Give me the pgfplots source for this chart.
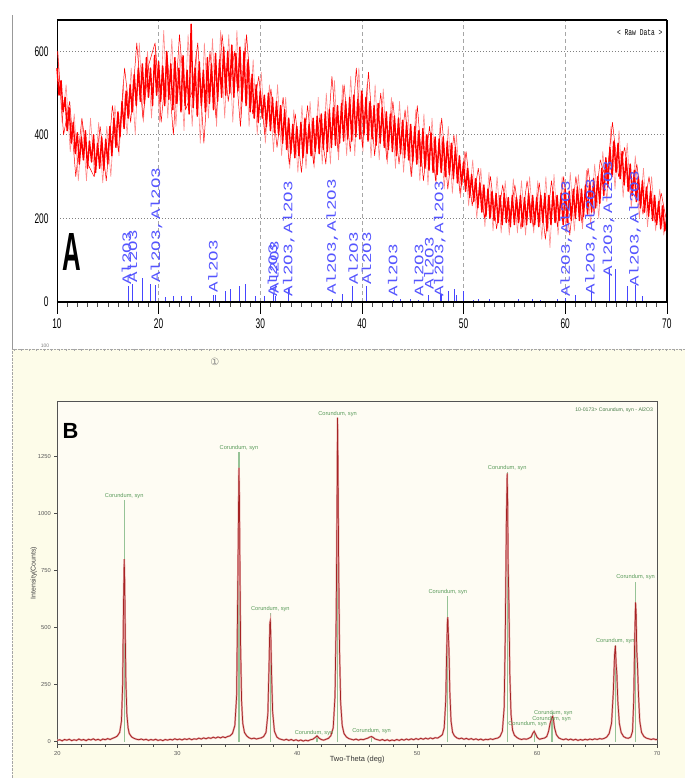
\documentclass[border=0pt]{standalone}
\usepackage{fontspec}
\setmainfont{Liberation Sans}
\newfontfamily\rawmono{Liberation Mono}
\newfontfamily\dejavu{DejaVu Sans}
\usepackage{graphicx}
\usepackage{pgfplots}
\pgfplotsset{compat=1.18}

\definecolor{creamout}{RGB}{253,252,233}
\definecolor{creamin}{RGB}{254,252,243}
\definecolor{stickblue}{RGB}{70,70,255}
\definecolor{labblue}{RGB}{85,85,255}
\definecolor{rawred}{RGB}{255,0,0}
\definecolor{rawpink}{RGB}{255,140,140}
\definecolor{pkred}{RGB}{165,35,35}
\definecolor{pkpink}{RGB}{228,160,160}
\definecolor{pkgreen}{RGB}{150,195,150}
\definecolor{txtgreen}{RGB}{90,155,90}

% reference stick label, panel A
\newcommand{\stk}[3]{\node[rotate=90,anchor=west,inner sep=0pt,text=labblue] at (axis cs:#1,#2) {\scalebox{1.35}[1]{\rawmono\fontsize{13}{13}\selectfont #3}};}
% phase label, panel B
\newcommand{\cor}[3]{\node[anchor=south,inner sep=1pt,text=txtgreen,font=\fontsize{5.7}{6}\selectfont] at (axis cs:#1,#2) {#3};}

\begin{document}
\begin{tikzpicture}
\fill[white] (0,0) rectangle (685bp,778bp);
\fill[creamout] (12bp,0) rectangle (685bp,429bp);
\draw[gray!80] (12bp,429bp) -- (12bp,763bp);
\draw[gray!70, densely dotted] (12bp,429bp) -- (685bp,429bp);
\draw[gray!70, densely dotted] (12bp,0) -- (12bp,429bp);
\foreach \i in {0,...,89} {
  \draw[gray!70] ({(14+7.5*\i)*1bp},429bp) -- ++(0,-2bp);
}
\node[gray, font=\fontsize{5}{5}\selectfont] at (45bp,432bp) {100};
\node[gray, font=\dejavu\fontsize{10}{10}\selectfont] at (215bp,416bp) {①};

% ---------------- panel A: raw pattern ----------------
\begin{axis}[
  at={(57bp,476bp)}, anchor=south west,
  scale only axis, width=610bp, height=282bp,
  xmin=10, xmax=70, ymin=0, ymax=675,
  clip=false,
  /pgf/number format/assume math mode=true,
  xtick={10,20,...,70}, ytick={0,200,400,600},
  minor x tick num=9,
  minor ytick={0,50,...,650},
  tick align=outside, xtick pos=left, ytick pos=left,
  major tick length=12bp, minor tick length=5bp,
  tick style={black, line width=0.6bp},
  ytick style={draw=none},
  minor tick style={black!70, line width=0.5bp},
  xmajorgrids, ymajorgrids,
  x grid style={gray!70, dash pattern=on 4bp off 3bp, line width=0.6bp},
  y grid style={gray, dash pattern=on 1.5bp off 1.5bp, line width=0.7bp},
  axis line style={black, line width=0.8bp},
  tick label style={font=\fontsize{14}{14}\selectfont},
  xticklabel={\scalebox{0.6}[1]{\pgfmathprintnumber{\tick}}},
  yticklabel={\scalebox{0.6}[1]{\pgfmathprintnumber{\tick}}},
  xticklabel style={yshift=-1bp},
  yticklabel style={xshift=7bp},
]
\addplot[draw=rawpink, mark=none, line width=0.6bp, line join=round] coordinates {
(10.1,600)(10.5,430)(10.9,520)(11.3,360)(11.7,450)(12.1,290)(12.5,430)(12.9,290)(13.3,440)(13.7,300)
(14.1,430)(14.5,285)(14.9,420)(15.3,300)(15.7,470)(16.1,350)(16.5,520)(16.9,400)(17.3,560)(17.7,400)
(18.1,620)(18.5,430)(18.9,600)(19.3,440)(19.7,610)(20.1,430)(20.5,650)(20.9,440)(21.3,630)(21.7,420)
(22.1,600)(22.5,410)(22.9,640)(23.3,420)(23.7,600)(24.1,380)(24.5,620)(24.9,440)(25.3,630)(25.7,420)
(26.1,650)(26.5,440)(26.9,640)(27.3,430)(27.7,650)(28.1,440)(28.5,630)(28.9,420)(29.3,580)(29.7,400)
(30.1,550)(30.5,380)(30.9,520)(31.3,360)(31.7,520)(32.1,350)(32.5,490)(32.9,320)(33.3,460)(33.7,310)
(34.1,470)(34.5,320)(34.9,480)(35.3,320)(35.7,490)(36.1,330)(36.5,500)(36.9,330)(37.3,530)(37.7,340)
(38.1,520)(38.5,350)(38.9,540)(39.3,350)(39.7,560)(40.1,360)(40.5,520)(40.9,345)(41.3,520)(41.7,340)
(42.1,510)(42.5,330)(42.9,490)(43.3,320)(43.7,480)(44.1,310)(44.5,470)(44.9,300)(45.3,460)(45.7,290)
(46.1,450)(46.5,280)(46.9,440)(47.3,280)(47.7,430)(48.1,270)(48.5,420)(48.9,260)(49.3,400)(49.7,250)
(50.1,360)(50.5,230)(50.9,340)(51.3,200)(51.7,320)(52.1,180)(52.5,310)(52.9,170)(53.3,300)(53.7,165)
(54.1,290)(54.5,160)(54.9,295)(55.3,165)(55.7,290)(56.1,160)(56.5,300)(56.9,165)(57.3,290)(57.7,150)
(58.1,300)(58.5,130)(58.9,305)(59.3,160)(59.7,300)(60.1,165)(60.5,310)(60.9,170)(61.3,305)(61.7,175)
(62.1,315)(62.5,185)(62.9,330)(63.3,200)(63.7,360)(64.1,240)(64.5,420)(64.9,270)(65.3,410)(65.7,250)
(66.1,380)(66.5,225)(66.9,350)(67.3,200)(67.7,320)(68.1,180)(68.5,300)(68.9,170)(69.3,270)(69.7,160)
(70.0,210)
};
\addplot[draw=rawred, mark=none, line width=0.5bp, line join=round] coordinates {
(10.05,600)(10.65,400)(11.25,480)(11.85,300)(12.45,440)(13.05,330)(13.65,300)(14.25,420)(14.85,290)
(15.45,470)(16.05,360)(16.65,560)(17.25,430)(17.85,620)(18.45,440)(19.05,570)(19.65,620)(20.25,430)
(20.85,590)(21.45,400)(22.05,640)(22.65,460)(23.25,500)(23.85,620)(24.45,380)(25.05,600)(25.65,440)
(26.25,640)(26.85,480)(27.45,600)(28.05,420)(28.65,640)(29.25,450)(29.85,540)(30.45,400)(31.05,510)
(31.65,370)(32.25,490)(32.85,330)(33.45,450)(34.05,310)(34.65,470)(35.25,330)(35.85,440)(36.45,330)
(37.05,540)(37.65,360)(38.25,520)(38.85,360)(39.45,560)(40.05,370)(40.65,550)(41.25,350)(41.85,500)
(42.45,340)(43.05,480)(43.65,330)(44.25,460)(44.85,300)(45.45,470)(46.05,290)(46.65,420)(47.25,290)
(47.85,440)(48.45,270)(49.05,400)(49.65,260)(50.25,360)(50.85,230)(51.45,320)(52.05,200)(52.65,300)
(53.25,175)(53.85,280)(54.45,190)(55.05,280)(55.65,175)(56.25,290)(56.85,180)(57.45,285)(58.05,150)
(58.65,290)(59.25,180)(59.85,300)(60.45,160)(61.05,300)(61.65,190)(62.25,320)(62.85,210)(63.45,340)
(64.05,290)(64.65,430)(65.25,300)(65.85,370)(66.45,250)(67.05,330)(67.65,210)(68.25,300)(68.85,190)
(69.45,260)(70.0,190)
};
\addplot[draw=rawred, mark=none, line width=1.4bp, line join=round] coordinates {
(10.0,560)(10.2,495)(10.4,530)(10.6,455)(10.8,490)(11.0,410)(11.2,465)(11.4,380)(11.6,430)(11.8,355)
(12.0,405)(12.2,330)(12.4,395)(12.6,340)(12.8,410)(13.0,320)(13.2,385)(13.4,335)(13.6,400)(13.8,310)
(14.0,380)(14.2,320)(14.4,395)(14.6,315)(14.8,390)(15.0,330)(15.2,420)(15.4,350)(15.6,440)(15.8,370)
(16.0,455)(16.2,395)(16.4,480)(16.6,415)(16.8,505)(17.0,440)(17.2,520)(17.4,455)(17.6,545)(17.8,470)
(18.0,560)(18.2,480)(18.4,570)(18.6,475)(18.8,585)(19.0,490)(19.2,560)(19.4,470)(19.6,590)(19.8,495)
(20.0,575)(20.2,480)(20.4,565)(20.6,470)(20.8,600)(21.0,485)(21.2,570)(21.4,460)(21.6,585)(21.8,475)
(22.0,560)(22.2,455)(22.4,590)(22.6,470)(22.8,555)(23.0,450)(23.2,665)(23.4,465)(23.6,560)(23.8,445)
(24.0,575)(24.2,470)(24.4,555)(24.6,455)(24.8,585)(25.0,475)(25.2,570)(25.4,460)(25.6,595)(25.8,480)
(26.0,580)(26.2,490)(26.4,610)(26.6,495)(26.8,600)(27.0,500)(27.2,615)(27.4,490)(27.6,595)(27.8,505)
(28.0,610)(28.2,480)(28.4,600)(28.6,470)(28.8,580)(29.0,455)(29.2,545)(29.4,440)(29.6,520)(29.8,430)
(30.0,505)(30.2,440)(30.4,495)(30.6,420)(30.8,500)(31.0,410)(31.2,490)(31.4,405)(31.6,480)(31.8,400)
(32.0,470)(32.2,380)(32.4,460)(32.6,365)(32.8,440)(33.0,355)(33.2,425)(33.4,345)(33.6,420)(33.8,350)
(34.0,430)(34.2,345)(34.4,440)(34.6,355)(34.8,425)(35.0,350)(35.2,440)(35.4,360)(35.6,445)(35.8,355)
(36.0,450)(36.2,365)(36.4,455)(36.6,360)(36.8,460)(37.0,370)(37.2,465)(37.4,375)(37.6,470)(37.8,380)
(38.0,475)(38.2,385)(38.4,480)(38.6,390)(38.8,490)(39.0,385)(39.2,495)(39.4,395)(39.6,485)(39.8,390)
(40.0,505)(40.2,400)(40.4,490)(40.6,385)(40.8,480)(41.0,390)(41.2,470)(41.4,375)(41.6,475)(41.8,380)
(42.0,465)(42.2,370)(42.4,455)(42.6,365)(42.8,450)(43.0,360)(43.2,445)(43.4,350)(43.6,440)(43.8,355)
(44.0,435)(44.2,345)(44.4,430)(44.6,340)(44.8,425)(45.0,335)(45.2,420)(45.4,330)(45.6,410)(45.8,325)
(46.0,415)(46.2,320)(46.4,400)(46.6,315)(46.8,405)(47.0,310)(47.2,395)(47.4,305)(47.6,390)(47.8,310)
(48.0,395)(48.2,300)(48.4,385)(48.6,305)(48.8,380)(49.0,295)(49.2,370)(49.4,285)(49.6,350)(49.8,280)
(50.0,335)(50.2,265)(50.4,320)(50.6,250)(50.8,305)(51.0,240)(51.2,295)(51.4,225)(51.6,285)(51.8,215)
(52.0,280)(52.2,205)(52.4,270)(52.6,200)(52.8,265)(53.0,195)(53.2,260)(53.4,190)(53.6,255)(53.8,185)
(54.0,260)(54.2,190)(54.4,250)(54.6,180)(54.8,255)(55.0,185)(55.2,250)(55.4,190)(55.6,255)(55.8,180)
(56.0,250)(56.2,185)(56.4,260)(56.6,190)(56.8,255)(57.0,185)(57.2,250)(57.4,180)(57.6,255)(57.8,190)
(58.0,260)(58.2,170)(58.4,255)(58.6,185)(58.8,265)(59.0,190)(59.2,255)(59.4,195)(59.6,260)(59.8,185)
(60.0,270)(60.2,190)(60.4,265)(60.6,195)(60.8,270)(61.0,200)(61.2,275)(61.4,195)(61.6,270)(61.8,205)
(62.0,280)(62.2,210)(62.4,285)(62.6,215)(62.8,295)(63.0,225)(63.2,300)(63.4,235)(63.6,320)(63.8,255)
(64.0,345)(64.2,275)(64.4,370)(64.6,300)(64.8,385)(65.0,310)(65.2,380)(65.4,295)(65.6,360)(65.8,280)
(66.0,345)(66.2,265)(66.4,330)(66.6,255)(66.8,315)(67.0,240)(67.2,300)(67.4,225)(67.6,290)(67.8,215)
(68.0,275)(68.2,205)(68.4,265)(68.6,195)(68.8,255)(69.0,185)(69.2,240)(69.4,175)(69.6,230)(69.8,170)
(70.0,200)
};
\addplot[ycomb, draw=stickblue, line width=0.8bp, mark=none] coordinates {
(17.0,37)(17.4,42)(18.4,58)(19.2,42)(19.7,40)(20.7,12)(21.5,15)(22.2,15)(23.2,15)
(25.4,17)(25.6,17)(26.6,27)(27.1,30)(27.9,37)(28.5,42)(29.5,15)(30.4,15)(31.3,20)(31.5,15)
(32.8,30)(37.1,8)(38.1,20)(39.1,38)(40.4,38)(43.1,5)(43.8,8)(44.8,8)(45.6,5)(46.55,17)
(47.7,20)(47.85,20)(48.5,27)(49.1,30)(49.3,17)(50.0,25)(51.0,5)(51.5,8)(52.5,8)(55.4,8)
(56.8,8)(57.6,5)(59.2,8)(60.0,10)(61.0,17)(62.6,25)(64.3,80)(64.9,78)(66.15,37)(66.9,40)(67.6,15)
};
\stk{16.85}{41}{Al2O3}
\stk{17.44}{45}{Al2O3}
\stk{19.8}{45}{Al2O3,Al2O3}
\stk{25.35}{22}{Al2O3}
\stk{31.2}{12}{Al2O3}
\stk{31.35}{20}{Al2O3}
\stk{32.8}{12}{Al2O3,Al2O3}
\stk{37.1}{17}{Al2O3,Al2O3}
\stk{39.14}{41}{Al2O3}
\stk{40.45}{41}{Al2O3}
\stk{43.04}{12}{Al2O3}
\stk{45.6}{12}{Al2O3}
\stk{46.6}{29}{Al2O3}
\stk{47.66}{12}{Al2O3,Al2O3}
\stk{60.1}{12}{Al2O3,Al2O3}
\stk{62.55}{17}{Al2O3,Al2O3}
\stk{64.28}{60}{Al2O3,Al2O3}
\stk{66.87}{36}{Al2O3,Al2O3}
\draw[black, line width=2.6bp] (rel axis cs:0,0) -- (rel axis cs:1,0);
\draw[black, line width=2bp] (rel axis cs:0,1) -- (rel axis cs:1,1);
\draw[black, line width=1.4bp] (rel axis cs:1,0) -- (rel axis cs:1,1);
\node[anchor=east, inner sep=0pt] at (rel axis cs:0.993,0.955)
  {\scalebox{0.7}[1]{\rawmono\fontsize{9}{9}\selectfont < Raw Data >}};
\node at (axis cs:11.5,120)
  {\scalebox{0.48}[1]{\fontsize{54}{54}\selectfont\bfseries A}};
\end{axis}

% ---------------- panel B: corundum pattern ----------------
\begin{axis}[
  at={(57.3bp,33.3bp)}, anchor=south west,
  scale only axis, width=600bp, height=343bp,
  xmin=20, xmax=70, ymin=-13, ymax=1490,
  clip=false,
  axis background/.style={fill=creamin},
  axis line style={gray!65!black, line width=0.8bp},
  /pgf/number format/assume math mode=true,
  /pgf/number format/1000 sep={},
  xtick={20,30,...,70}, ytick={0,250,500,750,1000,1250},
  minor x tick num=4,
  xtick pos=left, ytick pos=left, tick align=outside,
  major tick length=3bp, minor tick length=2bp,
  tick style={gray!60!black, line width=0.5bp},
  tick label style={font=\fontsize{5.8}{6}\selectfont, text=gray!70!black},
  xlabel={Two-Theta (deg)},
  ylabel={Intensity(Counts)},
  xlabel style={font=\fontsize{7.5}{8}\selectfont, text=black!80,
    at={(axis description cs:0.5,-0.045)}, anchor=center},
  ylabel style={font=\fontsize{7}{8}\selectfont, text=black!75,
    at={(axis description cs:-0.039,0.5)}, anchor=center, rotate=0},
]
\addplot[ycomb, draw=pkgreen, line width=1.3bp, mark=none] coordinates {
(25.58,1060)(35.14,1270)(37.76,565)(41.65,30)(43.36,1415)(46.18,25)
(52.55,640)(57.50,1180)(59.75,50)(61.18,110)(61.30,128)(66.52,425)(68.20,700)
};
\pgfplotstableread{
x y
20.0 5
20.2 8
20.4 3
20.6 9
20.8 6
21.0 10
21.2 4
21.4 8
21.6 5
21.8 11
22.0 6
22.2 9
22.4 4
22.6 10
22.8 7
23.0 12
23.2 6
23.4 10
23.6 5
23.8 11
24.0 8
24.2 13
24.4 9
24.6 14
24.8 18
25.0 24
25.2 40
25.35 90
25.45 250
25.52 600
25.58 800
25.62 700
25.66 500
25.72 260
25.8 120
25.9 60
26.0 35
26.2 20
26.4 14
26.6 10
26.8 8
27.0 11
27.2 7
27.4 10
27.6 5
27.8 9
28.0 6
28.2 10
28.4 5
28.6 8
28.8 4
29.0 9
29.2 6
29.4 10
29.6 7
29.8 12
30.0 8
30.2 11
30.4 7
30.6 12
30.8 9
31.0 13
31.2 8
31.4 12
31.6 10
31.8 15
32.0 11
32.2 16
32.4 12
32.6 17
32.8 14
33.0 19
33.2 15
33.4 20
33.6 16
33.8 21
34.0 17
34.2 22
34.4 25
34.6 35
34.8 70
34.95 200
35.05 700
35.14 1200
35.18 1080
35.22 800
35.28 420
35.36 180
35.46 80
35.6 40
35.8 24
36.0 16
36.2 12
36.4 15
36.6 11
36.8 14
37.0 16
37.2 22
37.4 40
37.55 120
37.65 330
37.72 520
37.76 530
37.8 460
37.86 300
37.95 130
38.1 45
38.3 20
38.5 12
38.7 9
38.9 6
39.1 10
39.3 5
39.5 9
39.7 4
39.9 8
40.1 3
40.3 7
40.5 2
40.7 6
40.9 3
41.1 8
41.3 10
41.5 18
41.65 25
41.8 16
42.0 9
42.2 6
42.4 10
42.6 14
42.8 25
43.0 60
43.15 200
43.25 550
43.32 1050
43.36 1420
43.4 1200
43.45 800
43.52 420
43.62 170
43.75 70
43.9 35
44.1 20
44.3 13
44.5 10
44.7 7
44.9 11
45.1 6
45.3 10
45.5 8
45.7 12
45.9 15
46.05 20
46.2 22
46.35 17
46.5 11
46.7 8
46.9 5
47.1 9
47.3 4
47.5 8
47.7 3
47.9 7
48.1 4
48.3 9
48.5 5
48.7 10
48.9 6
49.1 11
49.3 7
49.5 12
49.7 8
49.9 13
50.1 9
50.3 14
50.5 10
50.7 15
50.9 11
51.1 16
51.3 12
51.5 17
51.7 15
51.9 22
52.1 30
52.25 60
52.38 180
52.46 400
52.52 530
52.55 545
52.6 470
52.65 400
52.72 220
52.82 90
52.95 40
53.1 25
53.3 16
53.5 12
53.7 15
53.9 10
54.1 14
54.3 9
54.5 13
54.7 8
54.9 12
55.1 7
55.3 11
55.5 6
55.7 10
55.9 8
56.1 12
56.3 9
56.5 13
56.7 15
56.9 22
57.1 45
57.25 150
57.35 500
57.43 950
57.5 1175
57.54 1050
57.58 780
57.64 620
57.72 300
57.82 120
57.95 50
58.1 28
58.3 18
58.5 12
58.7 9
58.9 12
59.1 10
59.3 14
59.5 20
59.65 38
59.75 45
59.85 35
60.0 18
60.2 10
60.4 13
60.6 15
60.8 22
60.95 45
61.08 80
61.17 95
61.25 108
61.3 110
61.36 95
61.45 60
61.6 30
61.8 16
62.0 11
62.2 8
62.4 12
62.6 7
62.8 11
63.0 6
63.2 10
63.4 5
63.6 9
63.8 6
64.0 10
64.2 7
64.4 11
64.6 8
64.8 12
65.0 9
65.2 13
65.4 11
65.6 14
65.8 20
66.0 35
66.2 80
66.35 220
66.45 380
66.52 420
66.58 340
66.64 300
66.72 180
66.85 80
67.0 40
67.2 22
67.4 16
67.6 14
67.8 20
67.95 45
68.05 180
68.13 450
68.2 610
68.25 560
68.3 400
68.36 340
68.45 200
68.55 90
68.7 40
68.9 22
69.1 15
69.3 12
69.5 9
69.7 12
69.9 8
70.0 10
}\corundum
\addplot[draw=pkpink, mark=none, line width=1.8bp] table {\corundum};
\addplot[draw=pkred, mark=none, line width=0.7bp] table {\corundum};
\cor{25.58}{1060}{Corundum, syn}
\cor{35.14}{1270}{Corundum, syn}
\cor{37.76}{565}{Corundum, syn}
\cor{41.4}{22}{Corundum, syn}
\cor{43.36}{1420}{Corundum, syn}
\cor{46.2}{28}{Corundum, syn}
\cor{52.55}{640}{Corundum, syn}
\cor{57.5}{1180}{Corundum, syn}
\cor{59.2}{58}{Corundum, syn}
\cor{61.2}{82}{Corundum, syn}
\cor{61.35}{110}{Corundum, syn}
\cor{66.52}{425}{Corundum, syn}
\cor{68.2}{705}{Corundum, syn}
\node[anchor=north east, inner sep=1pt, text=txtgreen!80!black, font=\fontsize{5.2}{6}\selectfont]
  at (rel axis cs:0.995,0.985) {10-0173> Corundum, syn - Al2O3};
\node[font=\fontsize{22}{22}\selectfont\bfseries] at (axis cs:21.1,1361) {B};
\end{axis}
\end{tikzpicture}
\end{document}
